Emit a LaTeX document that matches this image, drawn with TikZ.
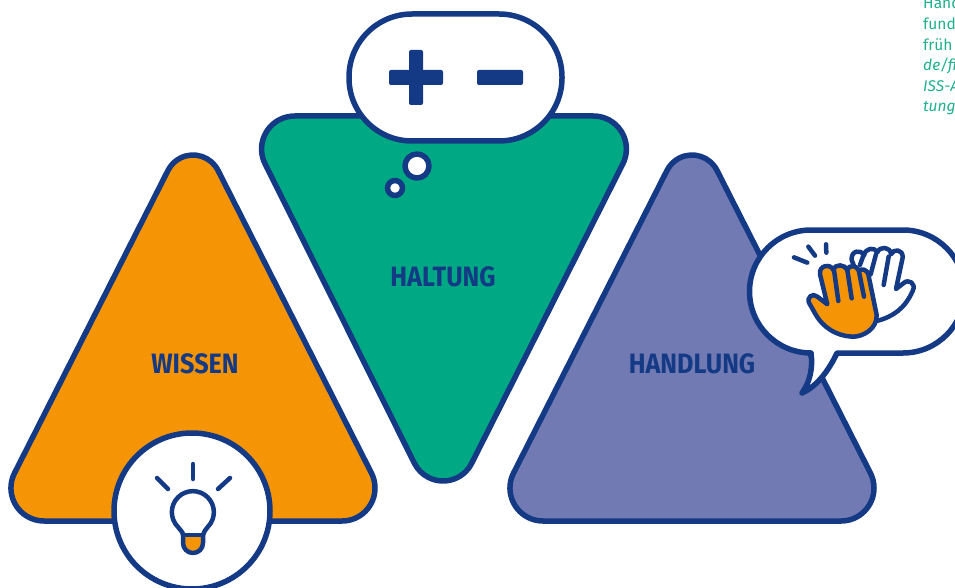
\documentclass[tikz,border=0pt]{standalone}
\usepackage{fontspec}
\usepackage{xcolor}
\setmainfont{Fira Sans}
\newfontfamily\lblfont[FakeStretch=0.9]{Fira Sans}
\definecolor{cInk}{HTML}{143A85}
\definecolor{cWissen}{HTML}{F59506}
\definecolor{cHaltung}{HTML}{00A884}
\definecolor{cHandlung}{HTML}{717AB3}
\definecolor{cNote}{HTML}{1FB08E}
\tikzset{
  tri/.style   ={draw=cInk,line width=5.5pt,line join=round},
  bub/.style   ={draw=cInk,fill=white,line width=5.5pt,line join=round},
  ico/.style   ={draw=cInk,line width=4.5pt,line cap=round,line join=round},
  lbl/.style   ={font=\lblfont\bfseries\fontsize{28}{28}\selectfont,text=cInk,inner sep=0pt},
  sign/.style  ={fill=cInk,rounded corners=2pt},
  note/.style  ={font=\fontsize{15.5}{20.6}\selectfont,text=cNote,align=left,inner sep=0pt},
}
\newcommand\uptri{(44,521) -- (342,521) arc[start angle=90,end angle=-26.8,radius=33]
  -- (218,170.4) arc[start angle=-26.8,end angle=-153.2,radius=28]
  -- (14.5,473.1) arc[start angle=-153.2,end angle=-270,radius=33] -- cycle}
\begin{document}
\begin{tikzpicture}[x=1pt,y=-1pt]
\useasboundingbox (0,0) rectangle (955,588);
% triangles
\draw[tri,fill=cWissen] \uptri;
\draw[tri,fill=cHaltung] (294.6,116) -- (593.4,116) arc[start angle=-90,end angle=26.8,radius=33]
  -- (471.6,463.4) arc[start angle=26.8,end angle=153.2,radius=32]
  -- (265.1,163.9) arc[start angle=153.2,end angle=270,radius=33] -- cycle;
\draw[tri,fill=cHandlung,shift={(499,0)}] \uptri;
\node[lbl] (wissen) at (195,364) {WISSEN};
\node[lbl] (haltung) at (443,277) {HALTUNG};
\node[lbl] (handlung) at (692,364) {HANDLUNG};
% lamp
\node[circle,bub,minimum size=156pt,inner sep=0pt] (lamp) at (192,511) {};
\fill[cWissen] (183,536) -- (203,536) -- (203,543) arc[start angle=0,end angle=180,radius=10] -- cycle;
\draw[ico] (178,527) arc[start angle=135,end angle=405,radius=21] .. controls (206,530) and (203,532) .. (203,535)
  -- (203,543) arc[start angle=0,end angle=180,radius=10] -- (183,535) .. controls (183,532) and (180,530) .. (178,527) -- cycle;
\draw[ico] (183,535) -- (203,535);
\draw[ico] (193,464) -- (193,479);
\draw[ico] (157,478) -- (168,489);
\draw[ico] (230,478) -- (218,489);
% thought
\draw[bub,rounded corners=63pt] (349,14) rectangle (562,141);
\node[circle,bub,minimum size=24pt,inner sep=0pt] (big) at (417,166) {};
\node[circle,bub,minimum size=15pt,inner sep=0pt] (small) at (395,188) {};
\fill[sign] (389,70) rectangle (443,85);
\fill[sign] (409,50) rectangle (423,105);
\fill[sign] (477,70) rectangle (523,85);
% speech
\draw[bub] (837,353) -- (903,353) arc[start angle=90,end angle=-90,radius=61.5] -- (811,230)
  arc[start angle=-90,end angle=-270,radius=61.5] .. controls (813,368) and (810,382) .. (802,393)
  .. controls (818,386) and (830,368) .. (837,353) -- cycle;
% hands
\begin{scope}[shift={(740,215)},x=0.3333pt,y=-0.3333pt]
\draw[ico,fill=white] (345,160) -- (335,135) .. controls (332,108) and (362,100) .. (372,122)
  .. controls (375,98) and (405,95) .. (412,112) .. controls (420,92) and (452,95) .. (453,118)
  .. controls (460,100) and (490,102) .. (488,128) -- (468,222) -- (490,205)
  .. controls (505,190) and (530,205) .. (518,228) .. controls (495,280) and (460,305) .. (410,318) -- cycle;
\draw[ico] (446,125) -- (431,210);
\draw[ico] (408,118) -- (392,178);
\draw[ico] (370,122) -- (360,150);
\draw[ico,fill=cWissen] (262,268) -- (240,178) .. controls (236,150) and (272,145) .. (280,165)
  .. controls (285,145) and (315,148) .. (322,165) .. controls (325,148) and (352,150) .. (357,168)
  .. controls (365,158) and (382,165) .. (385,178) -- (410,300)
  .. controls (412,340) and (370,367) .. (335,365) .. controls (290,362) and (250,340) .. (225,295)
  -- (208,265) .. controls (198,248) and (218,232) .. (232,245) -- cycle;
\draw[ico] (282,165) -- (295,258);
\draw[ico] (322,165) -- (335,250);
\draw[ico] (357,170) -- (372,245);
\draw[ico] (205,95) -- (225,122);
\draw[ico] (258,88) -- (259,113);
\draw[ico] (162,127) -- (202,143);
\end{scope}
\node[note,anchor=north west] (sidenote) at (923,-3) {Hand\\fund\\früh\\\itshape de/fi\\\itshape ISS-A\\\itshape tung};
\end{tikzpicture}
\end{document}
